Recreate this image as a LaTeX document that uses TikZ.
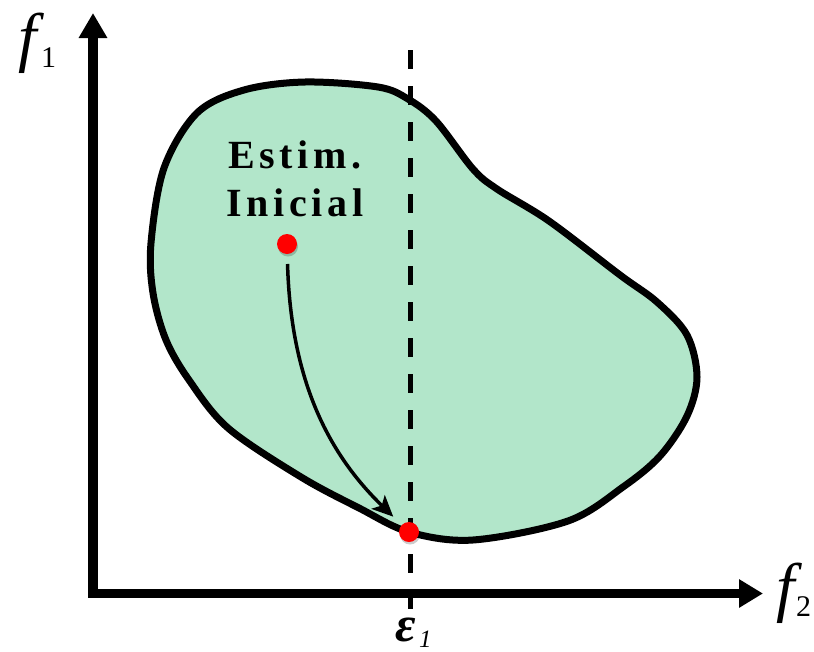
\documentclass[tikz,border=0pt]{standalone}
\usepackage{fontspec}
\setmainfont{Liberation Serif}
\newfontfamily\spaced[LetterSpace=12]{Liberation Serif}
\usetikzlibrary{arrows.meta,shadows}
\definecolor{blobgreen}{RGB}{178,230,202}
\definecolor{dotred}{RGB}{255,0,0}
\tikzset{
  axisline/.style={line width=9.5pt, line join=miter,
    {Triangle[length=25pt,width=27pt]}-{Triangle[length=24pt,width=27pt]}},
  blobline/.style={line width=7pt, line join=round},
  epsline/.style={line width=5pt, dash pattern=on 19pt off 17pt},
  reddot/.style={circle, fill=dotred, inner sep=0pt, outer sep=0pt, minimum size=20pt,
    drop shadow={shadow xshift=1pt, shadow yshift=-2.5pt, opacity=0.2, fill=black}},
  curvearrow/.style={line width=3.5pt, -{Stealth[length=21pt,width=19pt,inset=5pt]}},
  estim/.style={font=\spaced\bfseries\fontsize{40}{40}\selectfont, inner sep=0pt},
  axlab/.style={inner sep=0pt, anchor=base, font=\itshape\fontsize{66}{66}\selectfont},
  axsub/.style={inner sep=0pt, anchor=base west, font=\fontsize{30}{30}\selectfont},
}
\begin{document}
\begin{tikzpicture}[x=1pt,y=-1pt]
\useasboundingbox (0,0) rectangle (814,651);
% axes
\coordinate (ytip) at (93,13);
\coordinate (orig) at (93,593.5);
\coordinate (xtip) at (763,593.5);
\draw[axisline] (ytip) -- (orig) -- (xtip);
% feasible region
\path[fill=blobgreen] plot[smooth cycle, tension=0.55] coordinates {
 (305,82) (378,87) (408,99) (436,121) (473,169) (497,189) (549,221) (620,275)
 (657,302) (687,335) (697,377) (687,416) (660,456) (623,487) (568,521) (473,540) (409,532)
 (359,508) (301,477) (228,428) (189,380) (166,340) (153,293) (151,243) (164,168)
 (197,113) (244,90)};
% epsilon line
\coordinate (etop) at (410,50);
\coordinate (ebot) at (410,609);
\draw[epsline] (etop) -- (ebot);
\draw[blobline] plot[smooth cycle, tension=0.55] coordinates {
 (305,82) (378,87) (408,99) (436,121) (473,169) (497,189) (549,221) (620,275)
 (657,302) (687,335) (697,377) (687,416) (660,456) (623,487) (568,521) (473,540) (409,532)
 (359,508) (301,477) (228,428) (189,380) (166,340) (153,293) (151,243) (164,168)
 (197,113) (244,90)};
% labels
\node[estim, anchor=base] (t1) at (295,168) {Estim.};
\node[estim, anchor=base] (t2) at (295,216) {Inicial};
% dots
\node[reddot] (d1) at (287,244) {};
\node[reddot] (d2) at (409,532) {};
\draw[curvearrow, shorten <=10pt, shorten >=12pt] (d1) .. controls (291,390) and (335,460) .. (d2);
% axis labels
\node[axlab] (f1) at (28,59) {f};
\node[axsub] (f1s) at (41,67) {1};
\node[axlab] (f2) at (786,609) {f};
\node[axsub] (f2s) at (796,616) {2};
\node[inner sep=0pt, anchor=base, font=\bfseries\itshape\fontsize{50}{50}\selectfont] (eps) at (406,641) {ε};
\node[inner sep=0pt, anchor=base west, font=\itshape\fontsize{25}{25}\selectfont] (epss) at (419,647) {1};
\end{tikzpicture}
\end{document}
